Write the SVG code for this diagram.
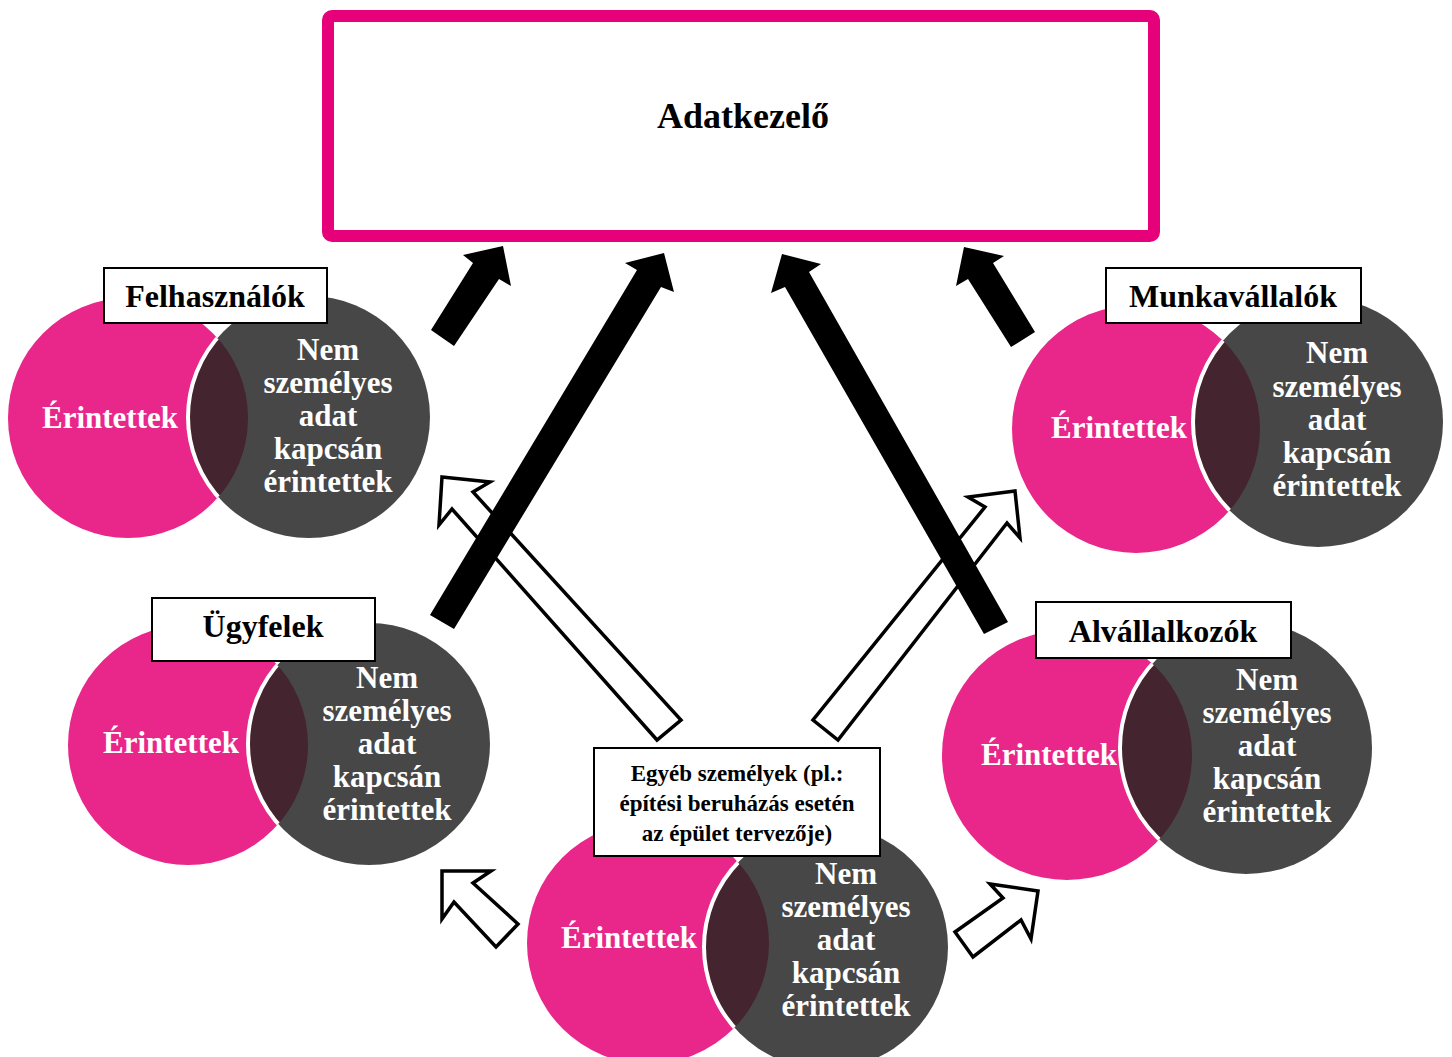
<svg xmlns="http://www.w3.org/2000/svg" width="1452" height="1057" viewBox="0 0 1452 1057">
<style>
.pink{fill:#E9268A}
.gray{fill:#474747}
.ov{fill:#43242F}
.ring{fill:none;stroke:#FFFFFF;stroke-width:4}
.lbl{fill:#FFFFFF;stroke:#000000;stroke-width:2}
.t{font-family:"Liberation Serif","Times New Roman",serif;font-weight:bold;text-anchor:middle}
.w{fill:#FFFFFF;font-size:31px}
.k{fill:#000000;font-size:32px}
.sm{fill:#000000;font-size:23px}
.solid{fill:#000000}
.hollow{fill:#FFFFFF;stroke:#000000;stroke-width:3.5;stroke-linejoin:miter}
</style>
<defs>
<clipPath id="c1"><circle cx="128" cy="418" r="120"/></clipPath>
<clipPath id="c2"><circle cx="188" cy="745" r="120"/></clipPath>
<clipPath id="c3"><circle cx="1136" cy="429" r="124"/></clipPath>
<clipPath id="c4"><circle cx="1067" cy="755" r="125"/></clipPath>
<clipPath id="c5"><circle cx="648" cy="943" r="121"/></clipPath>
</defs>

<g id="adatkezelo">
<rect x="328" y="16" width="826" height="220" rx="4" fill="#FFFFFF" stroke="#E6007A" stroke-width="12"/>
<text class="t" x="743" y="128" font-size="36" fill="#000000">Adatkezelő</text>
</g>

<g id="felhasznalok">
<circle class="pink" cx="128" cy="418" r="120"/>
<circle class="gray" cx="309" cy="417" r="121"/>
<circle class="ov" cx="309" cy="417" r="121" clip-path="url(#c1)"/>
<circle class="ring" cx="309" cy="417" r="121" clip-path="url(#c1)"/>
<text class="t w" x="110" y="428">Érintettek</text>
<text class="t w" x="328"><tspan x="328" y="360">Nem</tspan><tspan x="328" y="393">személyes</tspan><tspan x="328" y="426">adat</tspan><tspan x="328" y="459">kapcsán</tspan><tspan x="328" y="492">érintettek</tspan></text>
<rect class="lbl" x="104" y="268" width="223" height="55"/>
<text class="t k" x="215" y="307">Felhasználók</text>
</g>

<g id="ugyfelek">
<circle class="pink" cx="188" cy="745" r="120"/>
<circle class="gray" cx="369" cy="744" r="121"/>
<circle class="ov" cx="369" cy="744" r="121" clip-path="url(#c2)"/>
<circle class="ring" cx="369" cy="744" r="121" clip-path="url(#c2)"/>
<text class="t w" x="171" y="753">Érintettek</text>
<text class="t w" x="387"><tspan x="387" y="688">Nem</tspan><tspan x="387" y="721">személyes</tspan><tspan x="387" y="754">adat</tspan><tspan x="387" y="787">kapcsán</tspan><tspan x="387" y="820">érintettek</tspan></text>
<rect class="lbl" x="152" y="598" width="223" height="63"/>
<text class="t k" x="263" y="637">Ügyfelek</text>
</g>

<g id="munkavallalok">
<circle class="pink" cx="1136" cy="429" r="124"/>
<circle class="gray" cx="1318" cy="422" r="125"/>
<circle class="ov" cx="1318" cy="422" r="125" clip-path="url(#c3)"/>
<circle class="ring" cx="1318" cy="422" r="125" clip-path="url(#c3)"/>
<text class="t w" x="1119" y="438">Érintettek</text>
<text class="t w" x="1337"><tspan x="1337" y="363">Nem</tspan><tspan x="1337" y="397">személyes</tspan><tspan x="1337" y="430">adat</tspan><tspan x="1337" y="463">kapcsán</tspan><tspan x="1337" y="496">érintettek</tspan></text>
<rect class="lbl" x="1106" y="268" width="255" height="55"/>
<text class="t k" x="1233" y="307">Munkavállalók</text>
</g>

<g id="alvallalkozok">
<circle class="pink" cx="1067" cy="755" r="125"/>
<circle class="gray" cx="1246" cy="748" r="126"/>
<circle class="ov" cx="1246" cy="748" r="126" clip-path="url(#c4)"/>
<circle class="ring" cx="1246" cy="748" r="126" clip-path="url(#c4)"/>
<text class="t w" x="1049" y="765">Érintettek</text>
<text class="t w" x="1267"><tspan x="1267" y="690">Nem</tspan><tspan x="1267" y="723">személyes</tspan><tspan x="1267" y="756">adat</tspan><tspan x="1267" y="789">kapcsán</tspan><tspan x="1267" y="822">érintettek</tspan></text>
<rect class="lbl" x="1036" y="602" width="255" height="56"/>
<text class="t k" x="1163" y="642">Alvállalkozók</text>
</g>

<g id="egyeb">
<circle class="pink" cx="648" cy="943" r="121"/>
<circle class="gray" cx="826" cy="947" r="122"/>
<circle class="ov" cx="826" cy="947" r="122" clip-path="url(#c5)"/>
<circle class="ring" cx="826" cy="947" r="122" clip-path="url(#c5)"/>
<text class="t w" x="629" y="948">Érintettek</text>
<text class="t w" x="846"><tspan x="846" y="884">Nem</tspan><tspan x="846" y="917">személyes</tspan><tspan x="846" y="950">adat</tspan><tspan x="846" y="983">kapcsán</tspan><tspan x="846" y="1016">érintettek</tspan></text>
<rect class="lbl" x="594" y="748" width="286" height="108"/>
<text class="t sm" x="737"><tspan x="737" y="781">Egyéb személyek (pl.:</tspan><tspan x="737" y="811">építési beruházás esetén</tspan><tspan x="737" y="841">az épület tervezője)</tspan></text>
</g>

<g id="connectors">
<polygon class="hollow" points="442,477 490,482 473,492 681,720 657,740 452,509 439,525"/>
<polygon class="hollow" points="1015,491 1020,538 1007,523 838,740 813,720 985,507 968,497"/>
<polygon class="hollow" points="442,871 491,871 473,883 518,924 496,947 454,902 442,919"/>
<polygon class="hollow" points="1038,891 1031,939 1021,920 973,957 955,932 1003,898 990,884"/>
<polygon class="solid" points="431,330 473,263 463,255 503,246 511,286 499,279 454,346"/>
<polygon class="solid" points="430,615 637,270 625,263 664,253 674,292 661,287 454,629"/>
<polygon class="solid" points="1008,622 809,272 821,264 782,254 771,293 785,287 984,634"/>
<polygon class="solid" points="1035,332 993,263 1004,256 964,247 956,286 968,279 1011,347"/>
</g>
</svg>
